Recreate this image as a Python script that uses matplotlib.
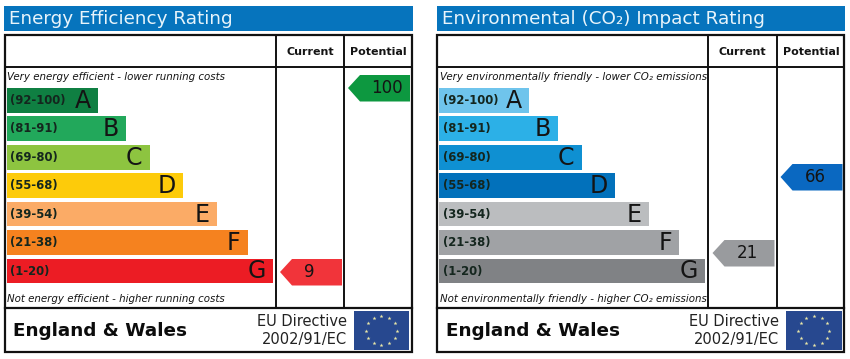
import numpy as np
import matplotlib
matplotlib.use('Agg')
import matplotlib.pyplot as plt
from matplotlib.patches import Polygon, Rectangle

# --- chart values ---
letters = ['A', 'B', 'C', 'D', 'E', 'F', 'G']
bands = ['(92-100)', '(81-91)', '(69-80)', '(55-68)', '(39-54)', '(21-38)', '(1-20)']

energy_title = 'Energy Efficiency Rating'
energy_top = 'Very energy efficient - lower running costs'
energy_bottom = 'Not energy efficient - higher running costs'
energy_lengths = [91, 119, 143, 176, 210.5, 241, 266.5]
energy_colors = ['#0f7f42', '#22a85b', '#8dc440', '#fdcb0a', '#fbab66', '#f5821f', '#ec1c24']
energy_current = 9
energy_potential = 100
energy_current_color = '#f1343a'
energy_potential_color = '#0d9840'

co2_title = 'Environmental (CO₂) Impact Rating'
co2_top = 'Very environmentally friendly - lower CO₂ emissions'
co2_bottom = 'Not environmentally friendly - higher CO₂ emissions'
co2_lengths = [90, 118.5, 142.5, 175.5, 210, 240, 266]
co2_colors = ['#6fc4ec', '#2cb0e7', '#0f90d2', '#0271bb', '#bbbdbf', '#a0a2a5', '#808285']
co2_current = 21
co2_potential = 66
co2_current_color = '#999b9e'
co2_potential_color = '#0a68c1'

# rows on the y pixel scale of the pointer
current_tops = {9: 259, 21: 240}
potential_tops = {100: 75, 66: 164}

BLUE = '#0674bd'
FLAG = '#27488f'
STAR = '#ece9a8'
TEXT = '#141414'

fig = plt.figure(figsize=(8.5, 3.59), dpi=100)
ax = fig.add_axes([0, 0, 1, 1])
ax.set_xlim(0, 850)
ax.set_ylim(359, 0)
ax.axis('off')
plt.rcParams['font.family'] = ['DejaVu Sans']


def pointer(x, top, value, color):
    ax.add_patch(Polygon([(x, top + 13), (x + 12, top), (x + 62, top),
                          (x + 62, top + 26.5), (x + 12, top + 26.5)],
                         closed=True, facecolor=color, edgecolor='none', zorder=2))
    if value >= 100:
        tx = x + 39
    elif value > 9:
        tx = x + 34.5
    else:
        tx = x + 29
    ax.text(tx, top + 13, str(value), fontsize=12, ha='center', va='center', color=TEXT, zorder=3)


def panel(x0, title, top, bottom, lengths, colors, current, potential, cur_color, pot_color):
    # blue title strip
    ax.add_patch(Rectangle((x0 + 4.5, 5.5), 408.5, 25.5, facecolor=BLUE, edgecolor='none'))
    ax.text(x0 + 9.5, 18.5, title, fontsize=13.2, color='#e8f4fb', va='center', ha='left')

    # frame and rules
    ax.add_patch(Rectangle((x0 + 5, 34.5), 407, 138 + 179.5, edgecolor='#111111', linewidth=1.6,
                           zorder=4, fill=False))
    ax.plot([x0 + 5, x0 + 412], [66.5, 66.5], color='#111111', lw=1.4, zorder=4)
    ax.plot([x0 + 5, x0 + 412], [308, 308], color='#111111', lw=1.6, zorder=4)
    for xc in (276, 344.5):
        ax.plot([x0 + xc, x0 + xc], [34.5, 308], color='#111111', lw=1.4, zorder=4)

    ax.text(x0 + 310, 52, 'Current', fontsize=8, fontweight='bold', ha='center', va='center', color=TEXT)
    ax.text(x0 + 378.5, 52, 'Potential', fontsize=8, fontweight='bold', ha='center', va='center', color=TEXT)

    ax.text(x0 + 7.5, 77, top, fontsize=7.4, style='italic', ha='left', va='center', color=TEXT)
    ax.text(x0 + 7.5, 298.5, bottom, fontsize=7.4, style='italic', ha='left', va='center', color=TEXT)

    # rating bars
    ys = np.array([100.5, 128.5, 157.2, 185.5, 214, 242.5, 271])
    ax.barh(ys, lengths, height=24.7, left=x0 + 7, color=colors, linewidth=0, zorder=1)
    for y, length, band, letter in zip(ys, lengths, bands, letters):
        ax.text(x0 + 10.5, y + 0.3, band, fontsize=8.4, fontweight='bold', ha='left', va='center',
                color='#14261e', zorder=3)
        ax.text(x0 + 7 + length - 7.5, y + 0.5, letter, fontsize=17, ha='right', va='center',
                color='#141414', zorder=3)

    pointer(x0 + 280, current_tops[current], current, cur_color)
    pointer(x0 + 348, potential_tops[potential], potential, pot_color)

    # footer
    ax.text(x0 + 13.5, 331.5, 'England & Wales', fontsize=13.2, fontweight='bold', ha='left', va='center',
            color='#0c0c0c')
    ax.text(x0 + 347, 322, 'EU Directive', fontsize=10.5, ha='right', va='center', color='#222222')
    ax.text(x0 + 347, 339.5, '2002/91/EC', fontsize=10.5, ha='right', va='center', color='#222222')
    ax.add_patch(Rectangle((x0 + 354, 311), 55.5, 39, facecolor=FLAG, edgecolor='none'))
    angles = np.deg2rad(np.arange(0, 360, 30))
    ax.scatter(x0 + 381.5 + 15.5 * np.cos(angles), 330.5 + 14.5 * np.sin(angles), marker='*', s=9,
               color=STAR, linewidths=0, zorder=3)


panel(0, energy_title, energy_top, energy_bottom, energy_lengths, energy_colors,
      energy_current, energy_potential, energy_current_color, energy_potential_color)
panel(432.5, co2_title, co2_top, co2_bottom, co2_lengths, co2_colors,
      co2_current, co2_potential, co2_current_color, co2_potential_color)

fig.savefig('out.png', dpi=100, facecolor='white')
